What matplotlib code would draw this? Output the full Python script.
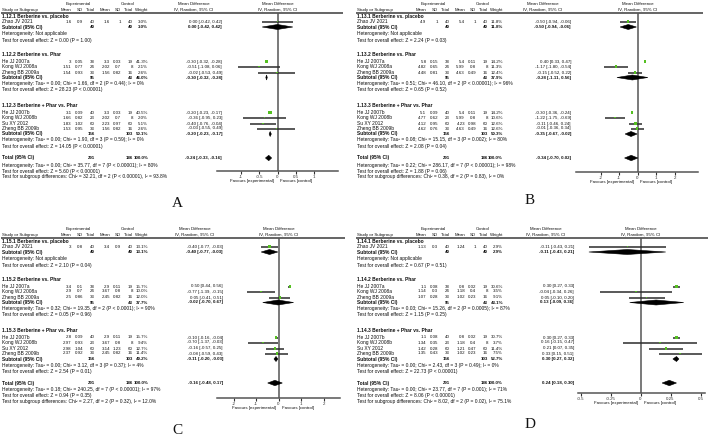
import matplotlib
matplotlib.use("Agg")
import matplotlib.pyplot as plt
from matplotlib.patches import Polygon, Rectangle

plt.rcParams['font.family'] = ['Liberation Sans', 'DejaVu Sans']

# ---------------- shared data ----------------
studies = ["Zhao JV 2021", "He JJ 2007a", "Kong WJ 2008a", "Zheng BB 2009a",
           "He JJ 2007b", "Kong WJ 2008b", "Su XY 2012", "Zheng BB 2009b"]
group_sizes = [1, 3, 4]
group_titles = ["Berberine vs. placebo", "Berberine vs. Phar", "Berberine + Phar vs. Phar"]
exp_n = [40, 38, 24, 33, 40, 23, 60, 33]
ctl_n = [40, 19, 8, 16, 19, 8, 60, 16]
sub_exp_n = [40, 95, 156]
sub_ctl_n = [40, 43, 103]
total_exp_n = 291
total_ctl_n = 186

# ---------------- panel A ----------------
A_code = "1.12"
A_exp_mean = [1.6, 3, 1.51, 1.54, 3.1, 1.66, 1.83, 1.53]
A_exp_sd = [0.9, 0.05, 0.77, 0.93, 0.09, 0.82, 1.02, 0.95]
A_ctl_mean = [1.6, 3.3, 2.02, 1.56, 3.3, 2.02, 2.23, 1.56]
A_ctl_sd = [1, 0.03, 0.7, 0.82, 0.03, 0.7, 0.97, 0.82]
A_weight = [3.0, 41.3, 2.1, 2.6, 40.5, 2.0, 5.1, 2.6]
A_md = [0.00, -0.30, -0.51, -0.02, -0.20, -0.36, -0.40, -0.03]
A_lo = [-0.42, -0.32, -1.08, -0.53, -0.23, -0.95, -0.76, -0.55]
A_hi = [0.42, -0.28, 0.06, 0.49, -0.17, 0.23, -0.04, 0.49]
A_sub_weight = [3.0, 46.0, 50.1]
A_sub_md = [0.00, -0.30, -0.20]
A_sub_lo = [-0.42, -0.32, -0.23]
A_sub_hi = [0.42, -0.28, -0.17]
A_total = [-0.24, -0.33, -0.16]
A_het = ["Not applicable",
         "Tau² = 0.00; Chi² = 1.66, df = 2 (P = 0.44); I² = 0%",
         "Tau² = 0.00; Chi² = 1.90, df = 3 (P = 0.59); I² = 0%"]
A_z = ["Z = 0.00 (P = 1.00)", "Z = 28.23 (P < 0.00001)", "Z = 14.05 (P < 0.00001)"]
A_total_het = "Tau² = 0.00; Chi² = 35.77, df = 7 (P < 0.00001); I² = 80%"
A_total_z = "Z = 5.60 (P < 0.00001)"
A_subgroup = "Chi² = 32.21, df = 2 (P < 0.00001), I² = 93.8%"
A_ticks = [-1, -0.5, 0, 0.5, 1]

# ---------------- panel B ----------------
B_code = "1.13"
B_exp_mean = [4.9, 5.8, 4.82, 4.48, 5.1, 4.77, 4.12, 4.62]
B_exp_sd = [1, 0.15, 0.65, 0.81, 0.09, 0.62, 0.95, 0.76]
B_ctl_mean = [5.4, 5.4, 5.99, 4.63, 5.4, 5.99, 4.23, 4.63]
B_ctl_sd = [1, 0.11, 0.8, 0.49, 0.11, 0.8, 0.98, 0.49]
B_weight = [11.8, 14.2, 11.3, 12.4, 14.2, 10.6, 12.6, 12.6]
B_md = [-0.50, 0.40, -1.17, -0.15, -0.30, -1.22, -0.11, -0.01]
B_lo = [-0.94, 0.33, -1.80, -0.52, -0.36, -1.75, -0.46, -0.36]
B_hi = [-0.06, 0.47, -0.54, 0.22, -0.24, -0.69, 0.24, 0.34]
B_sub_weight = [11.8, 37.9, 50.3]
B_sub_md = [-0.50, -0.28, -0.35]
B_sub_lo = [-0.94, -1.11, -0.67]
B_sub_hi = [-0.06, 0.56, -0.02]
B_total = [-0.34, -0.70, 0.02]
B_het = ["Not applicable",
         "Tau² = 0.51; Chi² = 46.10, df = 2 (P < 0.00001); I² = 96%",
         "Tau² = 0.08; Chi² = 15.15, df = 3 (P = 0.002); I² = 80%"]
B_z = ["Z = 2.24 (P = 0.03)", "Z = 0.65 (P = 0.52)", "Z = 2.08 (P = 0.04)"]
B_total_het = "Tau² = 0.22; Chi² = 286.17, df = 7 (P < 0.00001); I² = 98%"
B_total_z = "Z = 1.88 (P = 0.06)"
B_subgroup = "Chi² = 0.38, df = 2 (P = 0.83), I² = 0%"
B_ticks = [-2, -1, 0, 1, 2]

# ---------------- panel C ----------------
C_code = "1.15"
C_exp_mean = [3, 3.4, 2.9, 2.5, 2.8, 2.97, 2.98, 2.37]
C_exp_sd = [0.8, 0.1, 0.7, 0.86, 0.09, 0.93, 1.04, 0.92]
C_ctl_mean = [3.4, 2.9, 3.67, 2.45, 2.9, 3.67, 3.14, 2.45]
C_ctl_sd = [0.9, 0.11, 0.8, 0.82, 0.11, 0.8, 1.23, 0.82]
C_weight = [13.1, 15.7, 10.0, 12.0, 15.7, 9.4, 12.7, 11.4]
C_md = [-0.40, 0.50, -0.77, 0.05, -0.10, -0.70, -0.16, -0.08]
C_lo = [-0.77, 0.44, -1.39, -0.41, -0.16, -1.37, -0.57, -0.59]
C_hi = [-0.03, 0.56, -0.15, 0.51, -0.04, -0.03, 0.25, 0.43]
C_sub_weight = [13.1, 37.7, 49.2]
C_sub_md = [-0.40, -0.02, -0.11]
C_sub_lo = [-0.77, -0.70, -0.20]
C_sub_hi = [-0.03, 0.67, -0.03]
C_total = [-0.16, -0.48, 0.17]
C_het = ["Not applicable",
         "Tau² = 0.32; Chi² = 19.35, df = 2 (P < 0.0001); I² = 90%",
         "Tau² = 0.00; Chi² = 3.12, df = 3 (P = 0.37); I² = 4%"]
C_z = ["Z = 2.10 (P = 0.04)", "Z = 0.05 (P = 0.96)", "Z = 2.54 (P = 0.01)"]
C_total_het = "Tau² = 0.18; Chi² = 240.25, df = 7 (P < 0.00001); I² = 97%"
C_total_z = "Z = 0.94 (P = 0.35)"
C_subgroup = "Chi² = 2.27, df = 2 (P = 0.32), I² = 12.0%"
C_ticks = [-2, -1, 0, 1, 2]

# ---------------- panel D ----------------
D_code = "1.14"
D_exp_mean = [1.13, 1.1, 1.14, 1.07, 1.1, 1.34, 1.42, 1.35]
D_exp_sd = [0.3, 0.08, 0.3, 0.28, 0.08, 0.35, 0.28, 0.43]
D_ctl_mean = [1.24, 0.8, 1.18, 1.02, 0.8, 1.18, 1.21, 1.02]
D_ctl_sd = [1, 0.02, 0.4, 0.23, 0.02, 0.4, 0.47, 0.23]
D_weight = [2.9, 30.6, 3.5, 9.1, 30.7, 3.7, 11.4, 7.5]
D_md = [-0.11, 0.30, -0.04, 0.05, 0.30, 0.16, 0.21, 0.33]
D_lo = [-0.43, 0.27, -0.34, -0.10, 0.27, -0.15, 0.07, 0.15]
D_hi = [0.21, 0.33, 0.26, 0.20, 0.33, 0.47, 0.35, 0.51]
D_sub_weight = [2.9, 43.1, 52.7]
D_sub_md = [-0.11, 0.13, 0.30]
D_sub_lo = [-0.43, -0.09, 0.27]
D_sub_hi = [0.21, 0.36, 0.32]
D_total = [0.24, 0.18, 0.30]
D_het = ["Not applicable",
         "Tau² = 0.03; Chi² = 15.26, df = 2 (P = 0.0005); I² = 87%",
         "Tau² = 0.00; Chi² = 2.43, df = 3 (P = 0.49); I² = 0%"]
D_z = ["Z = 0.67 (P = 0.51)", "Z = 1.15 (P = 0.25)", "Z = 22.73 (P < 0.00001)"]
D_total_het = "Tau² = 0.00; Chi² = 23.77, df = 7 (P = 0.001); I² = 71%"
D_total_z = "Z = 8.06 (P < 0.00001)"
D_subgroup = "Chi² = 8.02, df = 2 (P = 0.02), I² = 75.1%"
D_ticks = [-0.5, -0.25, 0, 0.25, 0.5]

# ---------------- drawing ----------------
W, H = 708, 443
fig = plt.figure(figsize=(W / 100, H / 100), dpi=100)
tx = fig.add_axes([0, 0, 1, 1])
tx.set_xlim(0, W)
tx.set_ylim(H, 0)
tx.axis('off')

FS = 3.5      # running text
FSN = 3.15    # table numbers / column headers
TXT = '#111111'
GREEN = '#55c021'
LW = 1.1      # line width in points (~1.5 px)

# relative layout (pixels within a panel)
Y_H1, Y_H2, Y_LINE = 3.5, 9.5, 12.5
Y_GROUP = [16, 54.5, 105.5]
Y_STUDY = [21.5, 61.5, 66.5, 72.5, 112.5, 117.5, 123.5, 128.5]
Y_SUB = [27, 77.5, 134]
Y_HET = [33.5, 83.5, 140]
Y_Z = [40, 89.5, 146.5]
Y_TOT, Y_TOT_HET, Y_TOT_Z, Y_TOT_SUB = 158, 165, 171, 176.5
X_NAME, X_EM, X_ESD, X_EN, X_CM, X_CSD, X_CN, X_W = 2, 71.5, 83, 95, 110, 121, 133, 148


def t(ox, oy, x, y, s, ha='left', bold=False, fs=None, **kw):
    tx.text(ox + x, oy + y, s, fontsize=fs or FS, ha=ha, va='center', color=TXT,
            fontweight='bold' if bold else 'normal', **kw)


def ci_str(m, lo, hi):
    return f"{m:.2f} [{lo:.2f}, {hi:.2f}]"


def seg(ax, xs, ys, color, z=2):
    ax.plot(xs, ys, color=color, lw=LW, solid_capstyle='butt', zorder=z, clip_on=False)


def panel(ox, oy, code, em, esd, cm, csd, wt, md, lo, hi, swt, smd, slo, shi,
          tot, het, zz, thet, tz, tsub, ticks, ci_r, zero, unit, ax_l, ax_r, ax_y):
    # headers
    t(ox, oy, 78, Y_H1, "Experimental", ha='center', fs=FSN)
    t(ox, oy, 128, Y_H1, "Control", ha='center', fs=FSN)
    t(ox, oy, ci_r - 28, Y_H1, "Mean Difference", ha='center', fs=FSN)
    t(ox, oy, zero, Y_H1, "Mean Difference", ha='center', fs=FSN)
    t(ox, oy, X_NAME, Y_H2, "Study or Subgroup", fs=FSN)
    for x, s in [(X_EM, "Mean"), (X_ESD, "SD"), (X_EN, "Total"), (X_CM, "Mean"),
                 (X_CSD, "SD"), (X_CN, "Total"), (X_W, "Weight")]:
        t(ox, oy, x, Y_H2, s, ha='right', fs=FSN)
    t(ox, oy, ci_r - 28, Y_H2, "IV, Random, 95% CI", ha='center', fs=FSN)
    t(ox, oy, zero, Y_H2, "IV, Random, 95% CI", ha='center', fs=FSN)
    seg(tx, [ox + 0.5, ox + ax_r + 5], [oy + Y_LINE, oy + Y_LINE], '#3a3a3a')

    # forest axes (x in data units, y in figure pixel rows)
    fa = fig.add_axes([(ox + ax_l) / W, 1 - (oy + ax_y) / H,
                       (ax_r - ax_l) / W, (ax_y - Y_LINE) / H])
    fa.set_xlim((ax_l - zero) / unit, (ax_r - zero) / unit)
    fa.set_ylim(oy + ax_y, oy + Y_LINE)
    fa.patch.set_alpha(0)
    for sp in ['top', 'left', 'right']:
        fa.spines[sp].set_visible(False)
    fa.spines['bottom'].set_color('#555555')
    fa.spines['bottom'].set_linewidth(LW)
    fa.set_yticks([])
    fa.set_xticks(ticks)
    fa.set_xticklabels([f"{v:g}" for v in ticks])
    fa.tick_params(axis='x', length=2, width=0.8, pad=0.6, labelsize=FSN,
                   colors='#333333')
    px = 1.0 / unit  # one pixel in data units
    seg(fa, [0, 0], [oy + Y_LINE, oy + ax_y], '#555555', z=1)

    k = 0
    for g in range(3):
        t(ox, oy, X_NAME, Y_GROUP[g], f"{code}.{g + 1} {group_titles[g]}", bold=True)
        for j in range(group_sizes[g]):
            y = Y_STUDY[k]
            t(ox, oy, X_NAME, y, studies[k])
            t(ox, oy, X_EM, y, f"{em[k]:g}", ha='right', fs=FSN)
            t(ox, oy, X_ESD, y, f"{esd[k]:g}", ha='right', fs=FSN)
            t(ox, oy, X_EN, y, f"{exp_n[k]}", ha='right', fs=FSN)
            t(ox, oy, X_CM, y, f"{cm[k]:g}", ha='right', fs=FSN)
            t(ox, oy, X_CSD, y, f"{csd[k]:g}", ha='right', fs=FSN)
            t(ox, oy, X_CN, y, f"{ctl_n[k]}", ha='right', fs=FSN)
            t(ox, oy, X_W, y, f"{wt[k]:.1f}%", ha='right', fs=FSN)
            t(ox, oy, ci_r, y, ci_str(md[k], lo[k], hi[k]), ha='right', fs=FSN)
            seg(fa, [lo[k], hi[k]], [oy + y, oy + y], '#2b2b2b', z=2)
            side = max(1.6, 0.6 * wt[k] ** 0.5)  # pixels
            fa.add_patch(Rectangle((md[k] - side / 2 * px, oy + y - side / 2), side * px, side,
                                   facecolor=GREEN, edgecolor='none', zorder=3, clip_on=False))
            k += 1
        y = Y_SUB[g]
        t(ox, oy, X_NAME, y, "Subtotal (95% CI)", bold=True)
        t(ox, oy, X_EN, y, f"{sub_exp_n[g]}", ha='right', bold=True, fs=FSN)
        t(ox, oy, X_CN, y, f"{sub_ctl_n[g]}", ha='right', bold=True, fs=FSN)
        t(ox, oy, X_W, y, f"{swt[g]:.1f}%", ha='right', bold=True, fs=FSN)
        t(ox, oy, ci_r, y, ci_str(smd[g], slo[g], shi[g]), ha='right', bold=True, fs=FSN)
        h = 2.5
        fa.add_patch(Polygon([(slo[g], oy + y), (smd[g], oy + y - h), (shi[g], oy + y),
                              (smd[g], oy + y + h)], closed=True, facecolor='black',
                             edgecolor='black', lw=0.4, zorder=3))
        t(ox, oy, X_NAME, Y_HET[g], "Heterogeneity: " + het[g])
        t(ox, oy, X_NAME, Y_Z[g], "Test for overall effect: " + zz[g])

    y = Y_TOT
    t(ox, oy, X_NAME, y, "Total (95% CI)", bold=True)
    t(ox, oy, X_EN, y, f"{total_exp_n}", ha='right', bold=True, fs=FSN)
    t(ox, oy, X_CN, y, f"{total_ctl_n}", ha='right', bold=True, fs=FSN)
    t(ox, oy, X_W, y, "100.0%", ha='right', bold=True, fs=FSN)
    t(ox, oy, ci_r, y, ci_str(*tot), ha='right', bold=True, fs=FSN)
    h = 2.7
    fa.add_patch(Polygon([(tot[1], oy + y), (tot[0], oy + y - h), (tot[2], oy + y),
                          (tot[0], oy + y + h)], closed=True, facecolor='black',
                         edgecolor='black', lw=0.4, zorder=3))
    t(ox, oy, X_NAME, Y_TOT_HET, "Heterogeneity: " + thet)
    t(ox, oy, X_NAME, Y_TOT_Z, "Test for overall effect: " + tz)
    t(ox, oy, X_NAME, Y_TOT_SUB, "Test for subgroup differences: " + tsub)
    t(ox, oy, zero - 3, ax_y + 10, "Favours [experimental]", ha='right', fs=FSN)
    t(ox, oy, zero + 3, ax_y + 10, "Favours [control]", ha='left', fs=FSN)


panel(0, 0, A_code, A_exp_mean, A_exp_sd, A_ctl_mean, A_ctl_sd, A_weight, A_md, A_lo, A_hi,
      A_sub_weight, A_sub_md, A_sub_lo, A_sub_hi, A_total, A_het, A_z, A_total_het,
      A_total_z, A_subgroup, A_ticks, ci_r=222, zero=277.5, unit=36.5, ax_l=217, ax_r=338, ax_y=171)
panel(355, 0, B_code, B_exp_mean, B_exp_sd, B_ctl_mean, B_ctl_sd, B_weight, B_md, B_lo, B_hi,
      B_sub_weight, B_sub_md, B_sub_lo, B_sub_hi, B_total, B_het, B_z, B_total_het,
      B_total_z, B_subgroup, B_ticks, ci_r=216, zero=282.5, unit=18.5, ax_l=221, ax_r=343, ax_y=172)
panel(0, 225, C_code, C_exp_mean, C_exp_sd, C_ctl_mean, C_ctl_sd, C_weight, C_md, C_lo, C_hi,
      C_sub_weight, C_sub_md, C_sub_lo, C_sub_hi, C_total, C_het, C_z, C_total_het,
      C_total_z, C_subgroup, C_ticks, ci_r=223, zero=278.5, unit=22.5, ax_l=217, ax_r=340, ax_y=173)
panel(355, 225, D_code, D_exp_mean, D_exp_sd, D_ctl_mean, D_ctl_sd, D_weight, D_md, D_lo, D_hi,
      D_sub_weight, D_sub_md, D_sub_lo, D_sub_hi, D_total, D_het, D_z, D_total_het,
      D_total_z, D_subgroup, D_ticks, ci_r=219, zero=285.5, unit=120, ax_l=223, ax_r=350, ax_y=168)

for x, y, s in [(177, 203, 'A'), (530, 200, 'B'), (177, 431, 'C'), (530, 424, 'D')]:
    tx.text(x, y, s, fontsize=11, family='Liberation Serif', ha='center', va='center',
            color='#111111')

fig.savefig('out.png', dpi=100)
